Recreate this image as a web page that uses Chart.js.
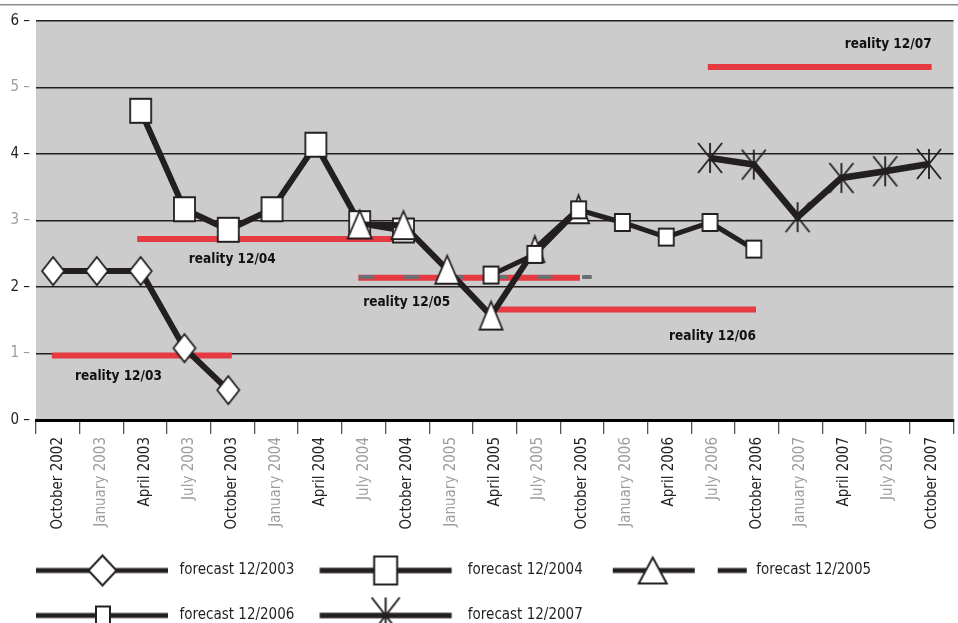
<!DOCTYPE html>
<html>
<head>
<meta charset="utf-8">
<script src="https://cdn.jsdelivr.net/npm/chart.js@4.4.1/dist/chart.umd.min.js"></script>
<style>
html,body{margin:0;padding:0;background:#fff;overflow:hidden;width:958px;height:623px}
canvas{display:block}
</style>
</head>
<body>
<canvas id="c" width="970" height="633"></canvas>
<script>
// ---------- DATA ----------
const categories = ['October 2002','January 2003','April 2003','July 2003','October 2003','January 2004','April 2004','July 2004','October 2004','January 2005','April 2005','July 2005','October 2005','January 2006','April 2006','July 2006','October 2006','January 2007','April 2007','July 2007','October 2007'];
const N = null;
const forecast2003 = [2.24, 2.24, 2.24, 1.08, 0.45, N, N, N, N, N, N, N, N, N, N, N, N, N, N, N, N];
const forecast2004 = [N, N, 4.65, 3.17, 2.86, 3.17, 4.14, 2.96, 2.85, N, N, N, N, N, N, N, N, N, N, N, N];
const forecast2005Tri = [N, N, N, N, N, N, N, 2.94, 2.93, 2.26, 1.57, 2.57, 3.17, N, N, N, N, N, N, N, N];
const forecast2006 = [N, N, N, N, N, N, N, N, N, N, 2.18, 2.49, 3.16, 2.97, 2.75, 2.97, 2.57, N, N, N, N];
const forecast2007 = [N, N, N, N, N, N, N, N, N, N, N, N, N, N, N, 3.94, 3.84, 3.05, 3.64, 3.74, 3.85];
const forecast2005DashLevel = 2.15;
const forecast2005DashSpan = [7, 12.3];           // in category-index units
const realityNames = ['reality 12/03','reality 12/04','reality 12/05','reality 12/06','reality 12/07'];
const realityLevel = [0.97, 2.72, 2.14, 1.66, 5.31];
const realityFrom  = [-0.03, 1.92, 6.97, 10.0, 14.95];
const realityTo    = [4.08, 7.95, 12.03, 16.05, 20.06];
const yTicks = [0, 1, 2, 3, 4, 5, 6];
const legendTexts = ['forecast 12/2003','forecast 12/2004','forecast 12/2005','forecast 12/2006','forecast 12/2007'];

// ---------- STYLE ----------
const INK = '#231f20';
const RED = '#e63a43';
const GREY_TXT = '#9d9d9d';
const FONT = "'DejaVu Sans Condensed', 'DejaVu Sans', sans-serif";
// caption anchors (category index, value) and alignment for the "reality" captions
const realityLabelX = [0.5, 3.1, 7.08, 16.05, 20.06];
const realityLabelY = [0.66, 2.41, 1.77, 1.26, 5.64];
const realityLabelAlign = ['left','left','left','right','right'];
const triSizes = [[24,28],[24,28],[24,28],[23,28],[19,26],[21,28]];

// ---------- SHAPES ----------
function shapeDiamond(g, cx, cy, w, h){g.beginPath();g.moveTo(cx,cy-h/2);g.lineTo(cx+w/2,cy);g.lineTo(cx,cy+h/2);g.lineTo(cx-w/2,cy);g.closePath();g.fill();g.stroke();}
function shapeSquare(g, cx, cy, w, h){g.beginPath();g.rect(cx-w/2,cy-h/2,w,h);g.fill();g.stroke();}
function shapeTri(g, cx, cy, w, h){g.beginPath();g.moveTo(cx,cy-h/2);g.lineTo(cx+w/2,cy+h/2);g.lineTo(cx-w/2,cy+h/2);g.closePath();g.fill();g.stroke();}
function shapeStar(g, cx, cy, w, h){g.beginPath();g.moveTo(cx,cy-h/2);g.lineTo(cx,cy+h/2);g.moveTo(cx-w/2,cy-h/2);g.lineTo(cx+w/2,cy+h/2);g.moveTo(cx+w/2,cy-h/2);g.lineTo(cx-w/2,cy+h/2);g.stroke();}

function marker(shape, w, h){
  const pad = 3;
  const c = document.createElement('canvas');
  c.width = w + 2*pad; c.height = h + 2*pad;
  const g = c.getContext('2d');
  g.lineWidth = 1.8; g.strokeStyle = INK; g.fillStyle = '#fff'; g.lineJoin = 'miter';
  shape(g, c.width/2, c.height/2, w, h);
  return c;
}

const BOXW = 136;
function legendImg(draw){
  const E = 30;
  const c = document.createElement('canvas');
  c.width = BOXW + 2*E; c.height = 44;
  const g = c.getContext('2d');
  g.translate(E, 22);
  g.strokeStyle = INK; g.fillStyle = '#fff';
  draw(g);
  return c;
}
function lline(g, x0, x1, w){g.save();g.lineWidth = w;g.lineCap='butt';g.beginPath();g.moveTo(x0,0);g.lineTo(x1,0);g.stroke();g.restore();}
function lshape(g, shape, cx, w, h){g.save();g.lineWidth = 2;shape(g, cx, 0, w, h);g.restore();}

const legendImages = [
  legendImg(g=>{lline(g,0,132,5);lshape(g,shapeDiamond,66.5,28,30);}),
  legendImg(g=>{lline(g,-4.7,127.3,5.5);lshape(g,shapeSquare,61.3,23,28);}),
  legendImg(g=>{lline(g,0,82,5);lshape(g,shapeTri,40,28,26);lline(g,105,134,5);}),
  legendImg(g=>{lline(g,0,132,5);lshape(g,shapeSquare,67,14,18);}),
  legendImg(g=>{lline(g,-4.7,127.3,5.5);lshape(g,shapeStar,61.3,28,36);})
];

// ---------- BUILD DATASETS ----------
const pts = arr => arr.map((v,i)=> v===null ? null : {x:i, y:v}).filter(p=>p);

const datasets = [];
realityLevel.forEach((v,i)=>{
  datasets.push({label: realityNames[i], data:[{x:realityFrom[i],y:v},{x:realityTo[i],y:v}],
    borderColor: RED, borderWidth: 6, pointRadius: 0, borderCapStyle:'butt', order: 7});
});
datasets.push({label:'forecast 12/2005', data:[{x:forecast2005DashSpan[0],y:forecast2005DashLevel},{x:forecast2005DashSpan[1],y:forecast2005DashLevel}],
  borderColor:'#6d6e71', borderWidth:4, borderDash:[14.5,30], pointRadius:0, borderCapStyle:'butt', order:6});
datasets.push({label:'forecast 12/2003', data:pts(forecast2003), borderColor:INK, borderWidth:6,
  pointStyle: marker(shapeDiamond,22,28), pointRadius:10, order:5});
datasets.push({label:'forecast 12/2004', data:pts(forecast2004), borderColor:INK, borderWidth:6,
  pointStyle: marker(shapeSquare,21,24), pointRadius:10, order:4});
datasets.push({label:'', data:pts(forecast2005Tri), borderColor:INK, borderWidth:6,
  pointStyle: triSizes.map(s=>marker(shapeTri,s[0],s[1])), pointRadius:10, order:3});
datasets.push({label:'forecast 12/2006', data:pts(forecast2006), borderColor:INK, borderWidth:5,
  pointStyle: marker(shapeSquare,15,17), pointRadius:10, order:2});
datasets.push({label:'forecast 12/2007', data:pts(forecast2007), borderColor:INK, borderWidth:6.5,
  pointStyle: marker(shapeStar,24,30), pointRadius:10, order:1});

// ---------- PLUGINS ----------
const backdrop = {
  id:'backdrop',
  beforeDraw(chart){
    const {ctx, chartArea:a} = chart;
    ctx.save();
    ctx.fillStyle = '#cccccc';
    ctx.fillRect(a.left, a.top, a.right-a.left, a.bottom-a.top);
    ctx.fillStyle = '#8a8a8a';
    ctx.fillRect(0, 4, chart.width, 1.5);
    ctx.restore();
  }
};
const realityLabels = {
  id:'realityLabels',
  afterDatasetsDraw(chart){
    const {ctx, scales:{xd, y}} = chart;
    ctx.save();
    ctx.font = "bold 13.5px " + FONT;
    ctx.fillStyle = '#111';
    ctx.textBaseline = 'middle';
    realityNames.forEach((t,i)=>{
      ctx.textAlign = realityLabelAlign[i];
      ctx.fillText(t, xd.getPixelForValue(realityLabelX[i]), y.getPixelForValue(realityLabelY[i]));
    });
    ctx.restore();
  }
};

new Chart(document.getElementById('c'), {
  type:'line',
  data:{ datasets: datasets.map(d=>Object.assign({xAxisID:'xd', yAxisID:'y', fill:false, tension:0}, d)) },
  plugins:[backdrop, realityLabels],
  options:{
    responsive:false, animation:false, events:[],
    layout:{ padding:{ left:6, right:3, top:21, bottom:0 } },
    scales:{
      x:{ type:'category', labels: categories, offset:true, position:'bottom',
          grid:{ offset:true, drawOnChartArea:false, drawTicks:true, tickLength:14, color:'#555', lineWidth:1.3 },
          border:{ display:true, color:'#000', width:3 },
          ticks:{ autoSkip:false, minRotation:90, maxRotation:90, padding:3,
                  font:{ family:FONT, size:15 },
                  color: c => (c.index % 2 === 0 ? INK : GREY_TXT) },
          afterFit: s => { s.height = 113; } },
      xd:{ type:'linear', display:false, min:-0.39, max:20.56 },
      y:{ min: yTicks[0], max: yTicks[yTicks.length-1], position:'left',
          afterBuildTicks: s => { s.ticks = yTicks.map(v=>({value:v})); },
          ticks:{ padding:6, font:{ family:FONT, size:15 }, callback: v => v + ' \u2013',
                  color: c => (c.tick.value % 2 === 0 ? INK : GREY_TXT) },
          grid:{ color: INK, lineWidth:1.5, drawTicks:false },
          border:{ display:false },
          afterFit: s => { s.width = 30; } }
    },
    plugins:{
      tooltip:{ enabled:false },
      legend:{
        position:'bottom', align:'start',
        labels:{
          usePointStyle:true, pointStyleWidth: BOXW, padding:30,
          font:{ family:FONT, size:15 }, color: INK,
          generateLabels: () => legendTexts.map((t,i)=>({
            text:t, pointStyle: legendImages[i], fillStyle:'rgba(0,0,0,0)', strokeStyle:'rgba(0,0,0,0)',
            lineWidth:0, hidden:false, fontColor: INK, datasetIndex: i
          }))
        }
      }
    }
  }
});
</script>
</body>
</html>
